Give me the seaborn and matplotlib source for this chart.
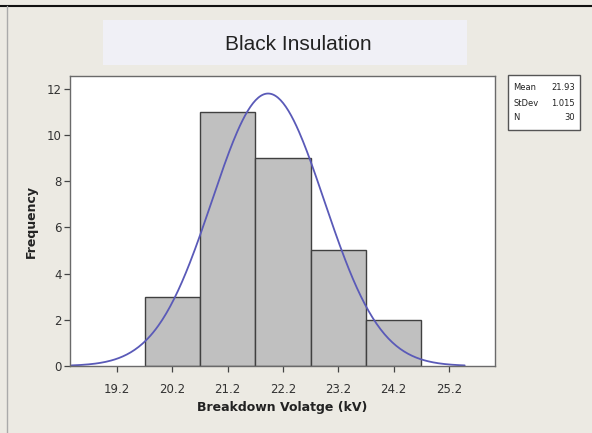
import matplotlib
matplotlib.use("Agg")
import matplotlib.pyplot as plt
from matplotlib.patches import Rectangle
import numpy as np
import pandas as pd
import seaborn as sns

# valores
bin_centers = [20.2, 21.2, 22.2, 23.2, 24.2]
counts = [3, 11, 9, 5, 2]
bin_width = 1.0
x_ticks = [19.2, 20.2, 21.2, 22.2, 23.2, 24.2, 25.2]
y_ticks = [0, 2, 4, 6, 8, 10, 12]
stat_names = ["Mean", "StDev", "N"]
stat_values = ["21.93", "1.015", "30"]
mean, sd, n_obs = 21.93, 1.015, 30

sns.set_theme(style="white")
plt.rcParams["font.family"] = ["DejaVu Sans"]

W, H = 592, 433
fig = plt.figure(figsize=(W / 100, H / 100), dpi=100)
fig.patch.set_facecolor("#ECEAE3")

def px(x0, y0, x1, y1):
    # caja en pixeles -> coordenadas de figura
    return [x0 / W, 1 - y1 / H, (x1 - x0) / W, (y1 - y0) / H]

ax = fig.add_axes(px(70, 76, 495, 366))
ax.set_facecolor("white")

df = pd.DataFrame({"v": bin_centers, "n": counts})
edges = [c - bin_width / 2 for c in bin_centers] + [bin_centers[-1] + bin_width / 2]
sns.histplot(data=df, x="v", weights="n", bins=edges, ax=ax,
             color="#C0C0C0", edgecolor="#404040", linewidth=1.0, alpha=1.0)

# curva normal ajustada (media y desviacion mostradas)
xs = np.linspace(mean - 3.5 * sd, mean + 3.5 * sd, 300)
ys = n_obs * bin_width * np.exp(-0.5 * ((xs - mean) / sd) ** 2) / (sd * np.sqrt(2 * np.pi))
sns.lineplot(x=xs, y=ys, ax=ax, color="#5A5AB8", linewidth=1.3)

ax.set_xlim(18.35, 26.03)
ax.set_ylim(0, 12.55)
ax.set_xticks(x_ticks)
ax.set_xticklabels([f"{t:.1f}" for t in x_ticks])
ax.set_yticks(y_ticks)
ax.tick_params(axis="both", direction="out", length=4, width=0.9, color="#444",
               labelsize=8.5, labelcolor="#333", pad=2)
ax.tick_params(axis="x", pad=8)
ax.tick_params(axis="both", which="both", bottom=True, left=True)
for s in ax.spines.values():
    s.set_color("#6A6A6A")
    s.set_linewidth(1.0)

ax.set_xlabel("Breakdown Volatge (kV)", fontsize=9, fontweight="bold", color="#222", labelpad=4)
ax.set_ylabel("Frequency", fontsize=9, fontweight="bold", color="#222", labelpad=6)

# caja del titulo
tb = px(103, 20, 467, 65)
fig.patches.append(Rectangle(tb[:2], tb[2], tb[3], transform=fig.transFigure,
                             facecolor="#F0F0F6", edgecolor="none", zorder=0))
fig.text(298 / W, 1 - 45 / H, "Black Insulation", ha="center", va="center",
         fontsize=15, family="Liberation Sans", color="#222")

# caja de estadisticas
b = px(508, 75, 580, 130)
fig.patches.append(Rectangle(b[:2], b[2], b[3], transform=fig.transFigure,
                             facecolor="white", edgecolor="#555", linewidth=1.0))
for i, (nm, val) in enumerate(zip(stat_names, stat_values)):
    yy = 1 - (88 + i * 15) / H
    fig.text(513 / W, yy, nm, ha="left", va="center", fontsize=6, color="#222")
    fig.text(575 / W, yy, val, ha="right", va="center", fontsize=6, color="#222")

# marco de la imagen
fig.add_artist(plt.Line2D([0, 1], [1 - 6 / H, 1 - 6 / H], transform=fig.transFigure, color="#111", linewidth=1.5))
fig.add_artist(plt.Line2D([7 / W, 7 / W], [0, 1 - 6 / H], transform=fig.transFigure, color="#AAA", linewidth=1.0))

fig.savefig("out.png", dpi=100, facecolor=fig.get_facecolor())
